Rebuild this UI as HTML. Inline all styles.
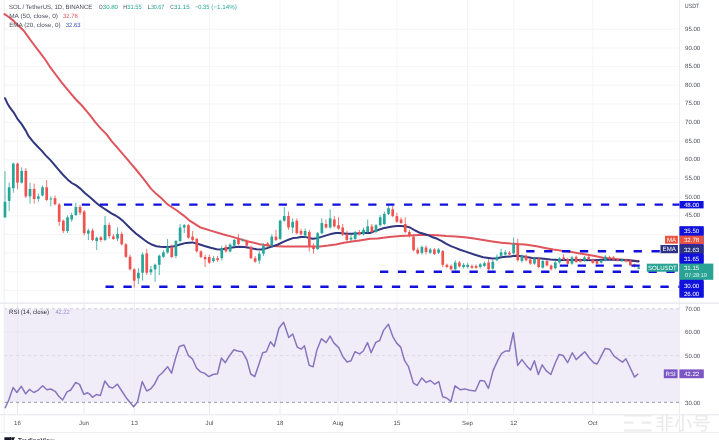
<!DOCTYPE html><html><head><meta charset="utf-8"><style>html,body{margin:0;padding:0;background:#fff;}body{width:719px;height:440px;overflow:hidden;}svg{display:block;}text{font-family:"Liberation Sans","Noto Sans CJK SC",sans-serif;text-rendering:geometricPrecision;}</style></head><body><svg width="719" height="440" viewBox="0 0 719 440"><rect width="719" height="440" fill="#fff"/><line x1="4" y1="290.4" x2="679.5" y2="290.4" stroke="#f4f5f8" stroke-width="1"/><line x1="4" y1="271.8" x2="679.5" y2="271.8" stroke="#f4f5f8" stroke-width="1"/><line x1="4" y1="253.1" x2="679.5" y2="253.1" stroke="#f4f5f8" stroke-width="1"/><line x1="4" y1="234.5" x2="679.5" y2="234.5" stroke="#f4f5f8" stroke-width="1"/><line x1="4" y1="215.8" x2="679.5" y2="215.8" stroke="#f4f5f8" stroke-width="1"/><line x1="4" y1="197.2" x2="679.5" y2="197.2" stroke="#f4f5f8" stroke-width="1"/><line x1="4" y1="178.5" x2="679.5" y2="178.5" stroke="#f4f5f8" stroke-width="1"/><line x1="4" y1="159.9" x2="679.5" y2="159.9" stroke="#f4f5f8" stroke-width="1"/><line x1="4" y1="141.2" x2="679.5" y2="141.2" stroke="#f4f5f8" stroke-width="1"/><line x1="4" y1="122.5" x2="679.5" y2="122.5" stroke="#f4f5f8" stroke-width="1"/><line x1="4" y1="103.9" x2="679.5" y2="103.9" stroke="#f4f5f8" stroke-width="1"/><line x1="4" y1="85.2" x2="679.5" y2="85.2" stroke="#f4f5f8" stroke-width="1"/><line x1="4" y1="66.6" x2="679.5" y2="66.6" stroke="#f4f5f8" stroke-width="1"/><line x1="4" y1="48.0" x2="679.5" y2="48.0" stroke="#f4f5f8" stroke-width="1"/><line x1="4" y1="29.3" x2="679.5" y2="29.3" stroke="#f4f5f8" stroke-width="1"/><line x1="17.5" y1="0" x2="17.5" y2="303" stroke="#f4f5f8" stroke-width="1"/><line x1="84" y1="0" x2="84" y2="303" stroke="#f4f5f8" stroke-width="1"/><line x1="134.4" y1="0" x2="134.4" y2="303" stroke="#f4f5f8" stroke-width="1"/><line x1="209.5" y1="0" x2="209.5" y2="303" stroke="#f4f5f8" stroke-width="1"/><line x1="280" y1="0" x2="280" y2="303" stroke="#f4f5f8" stroke-width="1"/><line x1="338" y1="0" x2="338" y2="303" stroke="#f4f5f8" stroke-width="1"/><line x1="397" y1="0" x2="397" y2="303" stroke="#f4f5f8" stroke-width="1"/><line x1="467.5" y1="0" x2="467.5" y2="303" stroke="#f4f5f8" stroke-width="1"/><line x1="513.75" y1="0" x2="513.75" y2="303" stroke="#f4f5f8" stroke-width="1"/><line x1="592.8" y1="0" x2="592.8" y2="303" stroke="#f4f5f8" stroke-width="1"/><rect x="4" y="308.8" width="675.5" height="93.6" fill="#f0edf9"/><line x1="17.5" y1="304" x2="17.5" y2="414" stroke="#ebe8f4" stroke-width="1"/><line x1="84" y1="304" x2="84" y2="414" stroke="#ebe8f4" stroke-width="1"/><line x1="134.4" y1="304" x2="134.4" y2="414" stroke="#ebe8f4" stroke-width="1"/><line x1="209.5" y1="304" x2="209.5" y2="414" stroke="#ebe8f4" stroke-width="1"/><line x1="280" y1="304" x2="280" y2="414" stroke="#ebe8f4" stroke-width="1"/><line x1="338" y1="304" x2="338" y2="414" stroke="#ebe8f4" stroke-width="1"/><line x1="397" y1="304" x2="397" y2="414" stroke="#ebe8f4" stroke-width="1"/><line x1="467.5" y1="304" x2="467.5" y2="414" stroke="#ebe8f4" stroke-width="1"/><line x1="513.75" y1="304" x2="513.75" y2="414" stroke="#ebe8f4" stroke-width="1"/><line x1="592.8" y1="304" x2="592.8" y2="414" stroke="#ebe8f4" stroke-width="1"/><line x1="4" y1="332.2" x2="679.5" y2="332.2" stroke="#e9e6f2" stroke-width="1"/><line x1="4" y1="308.8" x2="679.5" y2="308.8" stroke="#cfccda" stroke-width="1" stroke-dasharray="3 3"/><line x1="4" y1="355.6" x2="679.5" y2="355.6" stroke="#dcd8e8" stroke-width="1" stroke-dasharray="3 3"/><line x1="4" y1="402.4" x2="679.5" y2="402.4" stroke="#9d9aab" stroke-width="1" stroke-dasharray="3 3"/><line x1="0" y1="303.2" x2="719" y2="303.2" stroke="#e4e6ea" stroke-width="1.2"/><line x1="0" y1="414.8" x2="719" y2="414.8" stroke="#e4e6ea" stroke-width="1"/><line x1="0" y1="432.5" x2="719" y2="432.5" stroke="#eceef1" stroke-width="1"/><line x1="4.2" y1="0" x2="4.2" y2="433" stroke="#eceef1" stroke-width="1"/><line x1="679.5" y1="0" x2="679.5" y2="433" stroke="#eceef1" stroke-width="1"/><polyline points="4.5,14.1 9.1,17.3 13.6,20.9 18.2,25.5 23.6,30.5 29.1,38.2 34.5,45.5 40.0,52.7 45.5,60.0 50.9,68.2 56.4,75.5 61.8,82.7 65.9,87.7 70.5,93.2 75.9,99.5 81.4,105.0 86.8,111.4 91.5,117.2 95.2,122.2 100.9,128.6 106.4,134.1 111.8,141.4 117.3,147.7 120.5,151.4 125.9,157.7 131.4,164.1 136.8,170.5 141.9,176.8 145.5,181.4 150.9,188.6 156.4,194.1 161.8,198.6 167.3,204.1 170.0,206.0 176.9,210.5 183.7,215.6 189.2,220.3 199.9,227.2 210.6,230.6 222.8,234.3 235.1,237.6 247.3,241.2 259.6,244.2 271.8,245.9 284.0,246.4 290.0,246.5 300.5,246.4 315.0,246.6 320.0,246.4 328.0,245.6 335.9,244.4 343.8,242.8 351.8,241.6 359.7,240.4 370.0,238.8 377.7,238.5 389.0,237.0 400.5,236.1 410.0,235.6 419.1,234.9 428.2,234.9 437.3,235.2 446.4,236.1 455.5,236.6 465.0,237.3 474.1,238.6 483.2,240.0 492.3,241.4 501.4,242.7 510.5,243.6 519.5,244.2 525.0,244.6 536.7,246.3 545.0,247.9 553.4,249.6 561.7,250.8 570.0,251.8 580.0,253.4 592.2,255.4 603.4,257.8 614.5,259.1 625.6,260.0 638.5,261.1" fill="none" stroke="#e0545c" stroke-width="2.0" stroke-linejoin="round" stroke-linecap="round"/><polyline points="5.0,98.2 7.3,103.2 10.0,107.7 13.6,112.3 17.3,118.6 21.8,124.4 25.9,130.9 28.6,136.2 33.0,141.6 37.3,146.3 41.6,150.6 45.9,155.6 50.2,159.9 54.5,164.9 58.9,170.1 63.2,175.0 67.5,179.4 71.8,183.0 76.1,185.4 80.4,188.6 84.8,193.0 89.1,196.6 93.4,200.3 95.0,201.8 99.1,205.2 103.2,208.0 107.3,210.7 111.4,213.4 115.5,215.5 119.6,218.2 123.6,221.6 127.7,225.7 131.8,229.8 135.9,233.5 140.0,236.6 144.1,239.7 148.2,242.7 152.3,244.8 156.4,246.2 160.5,246.8 164.6,247.1 168.7,247.1 172.8,246.6 176.9,245.5 180.0,244.5 186.1,242.9 192.2,242.4 198.4,244.0 204.5,246.0 210.6,247.8 216.7,249.2 221.3,249.5 225.9,248.6 232.0,247.5 238.1,246.7 244.3,247.1 250.4,248.1 256.5,249.3 261.1,249.6 265.7,248.6 271.8,246.6 277.9,244.5 285.0,241.1 289.0,239.5 293.0,238.1 296.9,237.7 300.9,237.1 304.9,236.9 308.9,237.9 312.8,238.7 316.8,238.3 320.8,237.1 324.0,236.1 328.0,234.9 331.9,233.7 335.9,233.1 339.9,233.1 343.8,233.4 347.8,233.7 351.8,233.7 355.8,233.4 359.7,233.3 363.7,233.1 370.0,233.0 374.1,231.4 383.2,228.2 392.3,226.4 397.0,226.0 401.4,225.9 405.9,226.4 410.0,227.5 414.5,230.2 419.1,232.5 423.6,233.8 428.2,235.2 432.7,237.3 437.3,238.8 441.8,241.1 446.4,243.8 450.9,246.1 455.5,247.9 460.0,249.7 465.0,251.4 474.1,254.5 483.2,257.3 492.3,258.5 496.8,258.2 501.4,257.3 505.9,256.8 510.5,256.6 513.2,256.0 515.9,255.8 519.5,256.1 525.0,256.8 532.3,258.0 541.4,258.4 550.5,259.5 559.5,259.9 570.0,260.0 580.0,260.1 592.2,260.2 603.4,259.8 612.0,259.7 620.0,259.9 628.1,260.3 638.5,261.4" fill="none" stroke="#30367f" stroke-width="2.0" stroke-linejoin="round" stroke-linecap="round"/><line x1="4.99" y1="171.0" x2="4.99" y2="218.0" stroke="#26a69a" stroke-width="0.8"/><rect x="3.64" y="201.8" width="2.7" height="15.5" fill="#26a69a"/><line x1="9.16" y1="182.7" x2="9.16" y2="211.0" stroke="#26a69a" stroke-width="0.8"/><rect x="7.81" y="187.3" width="2.7" height="13.6" fill="#26a69a"/><line x1="13.33" y1="162.7" x2="13.33" y2="192.7" stroke="#26a69a" stroke-width="0.8"/><rect x="11.98" y="163.6" width="2.7" height="24.6" fill="#26a69a"/><line x1="17.50" y1="162.7" x2="17.50" y2="189.0" stroke="#ef5350" stroke-width="0.8"/><rect x="16.15" y="163.6" width="2.7" height="19.1" fill="#ef5350"/><line x1="21.67" y1="167.3" x2="21.67" y2="183.6" stroke="#26a69a" stroke-width="0.8"/><rect x="20.32" y="170.9" width="2.7" height="11.8" fill="#26a69a"/><line x1="25.84" y1="168.0" x2="25.84" y2="198.0" stroke="#ef5350" stroke-width="0.8"/><rect x="24.49" y="170.9" width="2.7" height="25.5" fill="#ef5350"/><line x1="30.01" y1="182.7" x2="30.01" y2="203.6" stroke="#26a69a" stroke-width="0.8"/><rect x="28.66" y="189.0" width="2.7" height="7.4" fill="#26a69a"/><line x1="34.18" y1="183.6" x2="34.18" y2="203.6" stroke="#ef5350" stroke-width="0.8"/><rect x="32.83" y="189.0" width="2.7" height="10.0" fill="#ef5350"/><line x1="38.34" y1="193.6" x2="38.34" y2="201.8" stroke="#26a69a" stroke-width="0.8"/><rect x="36.99" y="196.4" width="2.7" height="2.3" fill="#26a69a"/><line x1="42.51" y1="185.5" x2="42.51" y2="196.4" stroke="#26a69a" stroke-width="0.8"/><rect x="41.16" y="187.3" width="2.7" height="8.2" fill="#26a69a"/><line x1="46.68" y1="180.0" x2="46.68" y2="201.0" stroke="#ef5350" stroke-width="0.8"/><rect x="45.33" y="187.3" width="2.7" height="12.7" fill="#ef5350"/><line x1="50.85" y1="196.4" x2="50.85" y2="206.4" stroke="#26a69a" stroke-width="0.8"/><rect x="49.50" y="198.5" width="2.7" height="1.0" fill="#26a69a"/><line x1="55.02" y1="195.5" x2="55.02" y2="205.5" stroke="#ef5350" stroke-width="0.8"/><rect x="53.67" y="198.2" width="2.7" height="6.0" fill="#ef5350"/><line x1="59.19" y1="203.0" x2="59.19" y2="226.0" stroke="#ef5350" stroke-width="0.8"/><rect x="57.84" y="204.5" width="2.7" height="17.3" fill="#ef5350"/><line x1="63.36" y1="219.5" x2="63.36" y2="233.0" stroke="#ef5350" stroke-width="0.8"/><rect x="62.01" y="220.7" width="2.7" height="10.3" fill="#ef5350"/><line x1="67.53" y1="215.5" x2="67.53" y2="233.0" stroke="#26a69a" stroke-width="0.8"/><rect x="66.18" y="217.3" width="2.7" height="13.7" fill="#26a69a"/><line x1="71.70" y1="212.7" x2="71.70" y2="221.8" stroke="#26a69a" stroke-width="0.8"/><rect x="70.35" y="215.0" width="2.7" height="4.5" fill="#26a69a"/><line x1="75.87" y1="202.5" x2="75.87" y2="216.1" stroke="#26a69a" stroke-width="0.8"/><rect x="74.52" y="207.0" width="2.7" height="8.0" fill="#26a69a"/><line x1="80.03" y1="204.8" x2="80.03" y2="215.0" stroke="#ef5350" stroke-width="0.8"/><rect x="78.69" y="207.0" width="2.7" height="5.7" fill="#ef5350"/><line x1="84.20" y1="210.0" x2="84.20" y2="235.5" stroke="#ef5350" stroke-width="0.8"/><rect x="82.85" y="211.6" width="2.7" height="21.6" fill="#ef5350"/><line x1="88.37" y1="228.6" x2="88.37" y2="240.0" stroke="#26a69a" stroke-width="0.8"/><rect x="87.02" y="230.5" width="2.7" height="3.1" fill="#26a69a"/><line x1="92.54" y1="228.6" x2="92.54" y2="241.1" stroke="#ef5350" stroke-width="0.8"/><rect x="91.19" y="230.5" width="2.7" height="9.5" fill="#ef5350"/><line x1="96.71" y1="236.6" x2="96.71" y2="250.0" stroke="#26a69a" stroke-width="0.8"/><rect x="95.36" y="237.7" width="2.7" height="3.3" fill="#26a69a"/><line x1="100.88" y1="236.0" x2="100.88" y2="242.0" stroke="#ef5350" stroke-width="0.8"/><rect x="99.53" y="237.3" width="2.7" height="2.7" fill="#ef5350"/><line x1="105.05" y1="216.0" x2="105.05" y2="241.1" stroke="#26a69a" stroke-width="0.8"/><rect x="103.70" y="225.0" width="2.7" height="15.0" fill="#26a69a"/><line x1="109.22" y1="222.7" x2="109.22" y2="238.6" stroke="#ef5350" stroke-width="0.8"/><rect x="107.87" y="225.0" width="2.7" height="11.0" fill="#ef5350"/><line x1="113.39" y1="234.0" x2="113.39" y2="239.8" stroke="#ef5350" stroke-width="0.8"/><rect x="112.04" y="236.4" width="2.7" height="2.6" fill="#ef5350"/><line x1="117.56" y1="227.3" x2="117.56" y2="241.0" stroke="#26a69a" stroke-width="0.8"/><rect x="116.21" y="234.0" width="2.7" height="4.6" fill="#26a69a"/><line x1="121.72" y1="231.8" x2="121.72" y2="245.5" stroke="#ef5350" stroke-width="0.8"/><rect x="120.38" y="234.0" width="2.7" height="10.3" fill="#ef5350"/><line x1="125.89" y1="243.2" x2="125.89" y2="258.0" stroke="#ef5350" stroke-width="0.8"/><rect x="124.54" y="244.3" width="2.7" height="12.5" fill="#ef5350"/><line x1="130.06" y1="254.5" x2="130.06" y2="270.5" stroke="#ef5350" stroke-width="0.8"/><rect x="128.71" y="256.8" width="2.7" height="12.5" fill="#ef5350"/><line x1="134.23" y1="268.2" x2="134.23" y2="287.5" stroke="#ef5350" stroke-width="0.8"/><rect x="132.88" y="269.3" width="2.7" height="11.4" fill="#ef5350"/><line x1="138.40" y1="268.2" x2="138.40" y2="284.0" stroke="#26a69a" stroke-width="0.8"/><rect x="137.05" y="272.7" width="2.7" height="5.7" fill="#26a69a"/><line x1="142.57" y1="252.3" x2="142.57" y2="280.7" stroke="#26a69a" stroke-width="0.8"/><rect x="141.22" y="254.5" width="2.7" height="18.2" fill="#26a69a"/><line x1="146.74" y1="248.9" x2="146.74" y2="275.0" stroke="#ef5350" stroke-width="0.8"/><rect x="145.39" y="253.4" width="2.7" height="19.3" fill="#ef5350"/><line x1="150.91" y1="265.9" x2="150.91" y2="275.0" stroke="#26a69a" stroke-width="0.8"/><rect x="149.56" y="269.3" width="2.7" height="3.0" fill="#26a69a"/><line x1="155.08" y1="263.6" x2="155.08" y2="281.8" stroke="#26a69a" stroke-width="0.8"/><rect x="153.73" y="264.8" width="2.7" height="4.5" fill="#26a69a"/><line x1="159.25" y1="254.5" x2="159.25" y2="275.0" stroke="#26a69a" stroke-width="0.8"/><rect x="157.90" y="255.7" width="2.7" height="9.1" fill="#26a69a"/><line x1="163.41" y1="250.2" x2="163.41" y2="258.2" stroke="#26a69a" stroke-width="0.8"/><rect x="162.06" y="252.3" width="2.7" height="4.5" fill="#26a69a"/><line x1="167.58" y1="238.9" x2="167.58" y2="253.6" stroke="#26a69a" stroke-width="0.8"/><rect x="166.23" y="246.8" width="2.7" height="5.7" fill="#26a69a"/><line x1="171.75" y1="244.5" x2="171.75" y2="258.2" stroke="#ef5350" stroke-width="0.8"/><rect x="170.40" y="246.8" width="2.7" height="10.2" fill="#ef5350"/><line x1="175.92" y1="240.0" x2="175.92" y2="258.2" stroke="#26a69a" stroke-width="0.8"/><rect x="174.57" y="241.0" width="2.7" height="15.0" fill="#26a69a"/><line x1="180.09" y1="224.0" x2="180.09" y2="242.3" stroke="#26a69a" stroke-width="0.8"/><rect x="178.74" y="227.5" width="2.7" height="13.5" fill="#26a69a"/><line x1="184.26" y1="224.0" x2="184.26" y2="233.2" stroke="#26a69a" stroke-width="0.8"/><rect x="182.91" y="225.2" width="2.7" height="2.3" fill="#26a69a"/><line x1="188.43" y1="224.0" x2="188.43" y2="238.9" stroke="#ef5350" stroke-width="0.8"/><rect x="187.08" y="225.2" width="2.7" height="12.5" fill="#ef5350"/><line x1="192.60" y1="231.0" x2="192.60" y2="241.1" stroke="#ef5350" stroke-width="0.8"/><rect x="191.25" y="236.6" width="2.7" height="3.4" fill="#ef5350"/><line x1="196.77" y1="237.7" x2="196.77" y2="252.5" stroke="#ef5350" stroke-width="0.8"/><rect x="195.42" y="238.9" width="2.7" height="12.5" fill="#ef5350"/><line x1="200.94" y1="250.2" x2="200.94" y2="258.2" stroke="#ef5350" stroke-width="0.8"/><rect x="199.59" y="251.4" width="2.7" height="5.6" fill="#ef5350"/><line x1="205.10" y1="254.8" x2="205.10" y2="267.0" stroke="#ef5350" stroke-width="0.8"/><rect x="203.75" y="257.0" width="2.7" height="2.3" fill="#ef5350"/><line x1="209.27" y1="254.8" x2="209.27" y2="263.9" stroke="#ef5350" stroke-width="0.8"/><rect x="207.92" y="257.0" width="2.7" height="5.7" fill="#ef5350"/><line x1="213.44" y1="255.9" x2="213.44" y2="262.7" stroke="#26a69a" stroke-width="0.8"/><rect x="212.09" y="258.2" width="2.7" height="2.8" fill="#26a69a"/><line x1="217.61" y1="256.0" x2="217.61" y2="262.0" stroke="#ef5350" stroke-width="0.8"/><rect x="216.26" y="258.2" width="2.7" height="1.8" fill="#ef5350"/><line x1="221.78" y1="245.7" x2="221.78" y2="260.5" stroke="#26a69a" stroke-width="0.8"/><rect x="220.43" y="248.0" width="2.7" height="10.2" fill="#26a69a"/><line x1="225.95" y1="244.5" x2="225.95" y2="252.5" stroke="#ef5350" stroke-width="0.8"/><rect x="224.60" y="246.8" width="2.7" height="4.6" fill="#ef5350"/><line x1="230.12" y1="243.4" x2="230.12" y2="252.5" stroke="#26a69a" stroke-width="0.8"/><rect x="228.77" y="244.5" width="2.7" height="6.9" fill="#26a69a"/><line x1="234.29" y1="238.9" x2="234.29" y2="246.8" stroke="#26a69a" stroke-width="0.8"/><rect x="232.94" y="240.0" width="2.7" height="5.7" fill="#26a69a"/><line x1="238.46" y1="234.0" x2="238.46" y2="245.0" stroke="#ef5350" stroke-width="0.8"/><rect x="237.11" y="238.5" width="2.7" height="5.5" fill="#ef5350"/><line x1="242.63" y1="238.6" x2="242.63" y2="241.6" stroke="#26a69a" stroke-width="0.8"/><rect x="241.28" y="239.6" width="2.7" height="1.0" fill="#26a69a"/><line x1="246.79" y1="239.5" x2="246.79" y2="246.8" stroke="#ef5350" stroke-width="0.8"/><rect x="245.44" y="241.0" width="2.7" height="4.7" fill="#ef5350"/><line x1="250.96" y1="245.7" x2="250.96" y2="259.3" stroke="#ef5350" stroke-width="0.8"/><rect x="249.61" y="246.8" width="2.7" height="11.4" fill="#ef5350"/><line x1="255.13" y1="256.0" x2="255.13" y2="263.0" stroke="#ef5350" stroke-width="0.8"/><rect x="253.78" y="258.2" width="2.7" height="3.4" fill="#ef5350"/><line x1="259.30" y1="251.4" x2="259.30" y2="263.9" stroke="#26a69a" stroke-width="0.8"/><rect x="257.95" y="253.6" width="2.7" height="6.9" fill="#26a69a"/><line x1="263.47" y1="243.4" x2="263.47" y2="255.9" stroke="#26a69a" stroke-width="0.8"/><rect x="262.12" y="245.7" width="2.7" height="7.9" fill="#26a69a"/><line x1="267.64" y1="242.0" x2="267.64" y2="247.0" stroke="#ef5350" stroke-width="0.8"/><rect x="266.29" y="243.4" width="2.7" height="2.3" fill="#ef5350"/><line x1="271.81" y1="234.3" x2="271.81" y2="248.0" stroke="#26a69a" stroke-width="0.8"/><rect x="270.46" y="236.6" width="2.7" height="9.1" fill="#26a69a"/><line x1="275.98" y1="229.8" x2="275.98" y2="241.1" stroke="#ef5350" stroke-width="0.8"/><rect x="274.63" y="236.6" width="2.7" height="3.4" fill="#ef5350"/><line x1="280.15" y1="219.5" x2="280.15" y2="240.0" stroke="#26a69a" stroke-width="0.8"/><rect x="278.80" y="220.7" width="2.7" height="18.2" fill="#26a69a"/><line x1="284.32" y1="207.0" x2="284.32" y2="221.8" stroke="#26a69a" stroke-width="0.8"/><rect x="282.97" y="216.0" width="2.7" height="4.7" fill="#26a69a"/><line x1="288.48" y1="211.6" x2="288.48" y2="229.8" stroke="#ef5350" stroke-width="0.8"/><rect x="287.13" y="216.0" width="2.7" height="11.5" fill="#ef5350"/><line x1="292.65" y1="218.4" x2="292.65" y2="233.2" stroke="#26a69a" stroke-width="0.8"/><rect x="291.30" y="221.8" width="2.7" height="5.7" fill="#26a69a"/><line x1="296.82" y1="218.4" x2="296.82" y2="234.3" stroke="#ef5350" stroke-width="0.8"/><rect x="295.47" y="220.7" width="2.7" height="12.5" fill="#ef5350"/><line x1="300.99" y1="228.6" x2="300.99" y2="235.5" stroke="#ef5350" stroke-width="0.8"/><rect x="299.64" y="231.0" width="2.7" height="3.3" fill="#ef5350"/><line x1="305.16" y1="228.6" x2="305.16" y2="237.7" stroke="#26a69a" stroke-width="0.8"/><rect x="303.81" y="231.0" width="2.7" height="4.5" fill="#26a69a"/><line x1="309.33" y1="229.8" x2="309.33" y2="251.4" stroke="#ef5350" stroke-width="0.8"/><rect x="307.98" y="232.0" width="2.7" height="14.8" fill="#ef5350"/><line x1="313.50" y1="243.4" x2="313.50" y2="253.6" stroke="#ef5350" stroke-width="0.8"/><rect x="312.15" y="245.7" width="2.7" height="3.3" fill="#ef5350"/><line x1="317.67" y1="232.0" x2="317.67" y2="250.2" stroke="#26a69a" stroke-width="0.8"/><rect x="316.32" y="233.2" width="2.7" height="15.8" fill="#26a69a"/><line x1="321.84" y1="218.4" x2="321.84" y2="234.3" stroke="#26a69a" stroke-width="0.8"/><rect x="320.49" y="223.0" width="2.7" height="10.2" fill="#26a69a"/><line x1="326.01" y1="219.5" x2="326.01" y2="228.6" stroke="#ef5350" stroke-width="0.8"/><rect x="324.66" y="224.0" width="2.7" height="3.5" fill="#ef5350"/><line x1="330.17" y1="209.3" x2="330.17" y2="228.6" stroke="#26a69a" stroke-width="0.8"/><rect x="328.82" y="218.4" width="2.7" height="9.1" fill="#26a69a"/><line x1="334.34" y1="216.1" x2="334.34" y2="227.5" stroke="#ef5350" stroke-width="0.8"/><rect x="332.99" y="219.5" width="2.7" height="6.9" fill="#ef5350"/><line x1="338.51" y1="217.3" x2="338.51" y2="229.8" stroke="#ef5350" stroke-width="0.8"/><rect x="337.16" y="225.2" width="2.7" height="3.4" fill="#ef5350"/><line x1="342.68" y1="224.0" x2="342.68" y2="236.0" stroke="#ef5350" stroke-width="0.8"/><rect x="341.33" y="227.5" width="2.7" height="6.9" fill="#ef5350"/><line x1="346.85" y1="230.9" x2="346.85" y2="241.1" stroke="#ef5350" stroke-width="0.8"/><rect x="345.50" y="234.3" width="2.7" height="5.7" fill="#ef5350"/><line x1="351.02" y1="235.0" x2="351.02" y2="241.0" stroke="#26a69a" stroke-width="0.8"/><rect x="349.67" y="237.7" width="2.7" height="1.8" fill="#26a69a"/><line x1="355.19" y1="230.9" x2="355.19" y2="240.0" stroke="#26a69a" stroke-width="0.8"/><rect x="353.84" y="232.0" width="2.7" height="6.9" fill="#26a69a"/><line x1="359.36" y1="230.0" x2="359.36" y2="235.5" stroke="#ef5350" stroke-width="0.8"/><rect x="358.01" y="232.0" width="2.7" height="2.3" fill="#ef5350"/><line x1="363.53" y1="227.5" x2="363.53" y2="235.5" stroke="#26a69a" stroke-width="0.8"/><rect x="362.18" y="229.8" width="2.7" height="4.5" fill="#26a69a"/><line x1="367.70" y1="219.5" x2="367.70" y2="233.2" stroke="#26a69a" stroke-width="0.8"/><rect x="366.35" y="226.4" width="2.7" height="5.6" fill="#26a69a"/><line x1="371.86" y1="224.0" x2="371.86" y2="233.2" stroke="#ef5350" stroke-width="0.8"/><rect x="370.51" y="226.4" width="2.7" height="5.6" fill="#ef5350"/><line x1="376.03" y1="224.0" x2="376.03" y2="233.2" stroke="#26a69a" stroke-width="0.8"/><rect x="374.68" y="225.2" width="2.7" height="6.8" fill="#26a69a"/><line x1="380.20" y1="215.0" x2="380.20" y2="226.4" stroke="#26a69a" stroke-width="0.8"/><rect x="378.85" y="217.3" width="2.7" height="7.9" fill="#26a69a"/><line x1="384.37" y1="211.6" x2="384.37" y2="225.2" stroke="#26a69a" stroke-width="0.8"/><rect x="383.02" y="213.9" width="2.7" height="10.1" fill="#26a69a"/><line x1="388.54" y1="206.0" x2="388.54" y2="215.0" stroke="#26a69a" stroke-width="0.8"/><rect x="387.19" y="208.2" width="2.7" height="5.7" fill="#26a69a"/><line x1="392.71" y1="206.0" x2="392.71" y2="217.3" stroke="#ef5350" stroke-width="0.8"/><rect x="391.36" y="209.3" width="2.7" height="6.8" fill="#ef5350"/><line x1="396.88" y1="212.7" x2="396.88" y2="223.0" stroke="#ef5350" stroke-width="0.8"/><rect x="395.53" y="216.1" width="2.7" height="5.7" fill="#ef5350"/><line x1="401.05" y1="217.3" x2="401.05" y2="224.0" stroke="#ef5350" stroke-width="0.8"/><rect x="399.70" y="219.5" width="2.7" height="3.5" fill="#ef5350"/><line x1="405.22" y1="217.3" x2="405.22" y2="233.2" stroke="#ef5350" stroke-width="0.8"/><rect x="403.87" y="224.0" width="2.7" height="8.0" fill="#ef5350"/><line x1="409.39" y1="229.8" x2="409.39" y2="237.7" stroke="#ef5350" stroke-width="0.8"/><rect x="408.04" y="232.0" width="2.7" height="3.5" fill="#ef5350"/><line x1="413.55" y1="234.3" x2="413.55" y2="251.4" stroke="#ef5350" stroke-width="0.8"/><rect x="412.20" y="236.6" width="2.7" height="13.6" fill="#ef5350"/><line x1="417.72" y1="247.5" x2="417.72" y2="254.5" stroke="#ef5350" stroke-width="0.8"/><rect x="416.37" y="249.7" width="2.7" height="3.7" fill="#ef5350"/><line x1="421.89" y1="245.5" x2="421.89" y2="254.5" stroke="#26a69a" stroke-width="0.8"/><rect x="420.54" y="247.0" width="2.7" height="5.9" fill="#26a69a"/><line x1="426.06" y1="245.5" x2="426.06" y2="254.5" stroke="#ef5350" stroke-width="0.8"/><rect x="424.71" y="247.5" width="2.7" height="4.5" fill="#ef5350"/><line x1="430.23" y1="248.0" x2="430.23" y2="254.0" stroke="#26a69a" stroke-width="0.8"/><rect x="428.88" y="249.5" width="2.7" height="3.2" fill="#26a69a"/><line x1="434.40" y1="248.0" x2="434.40" y2="255.0" stroke="#ef5350" stroke-width="0.8"/><rect x="433.05" y="249.5" width="2.7" height="4.5" fill="#ef5350"/><line x1="438.57" y1="248.0" x2="438.57" y2="254.0" stroke="#26a69a" stroke-width="0.8"/><rect x="437.22" y="249.5" width="2.7" height="3.2" fill="#26a69a"/><line x1="442.74" y1="250.0" x2="442.74" y2="267.0" stroke="#ef5350" stroke-width="0.8"/><rect x="441.39" y="251.1" width="2.7" height="13.7" fill="#ef5350"/><line x1="446.91" y1="263.6" x2="446.91" y2="268.2" stroke="#ef5350" stroke-width="0.8"/><rect x="445.56" y="264.8" width="2.7" height="2.2" fill="#ef5350"/><line x1="451.08" y1="264.5" x2="451.08" y2="270.5" stroke="#ef5350" stroke-width="0.8"/><rect x="449.73" y="265.9" width="2.7" height="3.4" fill="#ef5350"/><line x1="455.24" y1="260.2" x2="455.24" y2="270.5" stroke="#26a69a" stroke-width="0.8"/><rect x="453.89" y="262.5" width="2.7" height="6.8" fill="#26a69a"/><line x1="459.41" y1="261.0" x2="459.41" y2="267.5" stroke="#ef5350" stroke-width="0.8"/><rect x="458.06" y="262.5" width="2.7" height="3.9" fill="#ef5350"/><line x1="463.58" y1="263.0" x2="463.58" y2="268.5" stroke="#26a69a" stroke-width="0.8"/><rect x="462.23" y="264.8" width="2.7" height="2.2" fill="#26a69a"/><line x1="467.75" y1="263.0" x2="467.75" y2="268.5" stroke="#26a69a" stroke-width="0.8"/><rect x="466.40" y="264.8" width="2.7" height="2.2" fill="#26a69a"/><line x1="471.92" y1="264.5" x2="471.92" y2="269.0" stroke="#ef5350" stroke-width="0.8"/><rect x="470.57" y="265.9" width="2.7" height="1.8" fill="#ef5350"/><line x1="476.09" y1="264.5" x2="476.09" y2="269.0" stroke="#ef5350" stroke-width="0.8"/><rect x="474.74" y="265.9" width="2.7" height="1.8" fill="#ef5350"/><line x1="480.26" y1="263.0" x2="480.26" y2="268.5" stroke="#26a69a" stroke-width="0.8"/><rect x="478.91" y="264.3" width="2.7" height="2.7" fill="#26a69a"/><line x1="484.43" y1="261.5" x2="484.43" y2="267.0" stroke="#26a69a" stroke-width="0.8"/><rect x="483.08" y="263.2" width="2.7" height="2.7" fill="#26a69a"/><line x1="488.60" y1="259.0" x2="488.60" y2="270.5" stroke="#ef5350" stroke-width="0.8"/><rect x="487.25" y="262.5" width="2.7" height="6.8" fill="#ef5350"/><line x1="492.77" y1="260.0" x2="492.77" y2="269.8" stroke="#26a69a" stroke-width="0.8"/><rect x="491.42" y="261.8" width="2.7" height="6.8" fill="#26a69a"/><line x1="496.93" y1="254.5" x2="496.93" y2="261.4" stroke="#26a69a" stroke-width="0.8"/><rect x="495.58" y="256.8" width="2.7" height="3.4" fill="#26a69a"/><line x1="501.10" y1="248.9" x2="501.10" y2="256.8" stroke="#26a69a" stroke-width="0.8"/><rect x="499.75" y="252.3" width="2.7" height="3.4" fill="#26a69a"/><line x1="505.27" y1="250.0" x2="505.27" y2="255.7" stroke="#26a69a" stroke-width="0.8"/><rect x="503.92" y="252.3" width="2.7" height="2.2" fill="#26a69a"/><line x1="509.44" y1="251.0" x2="509.44" y2="255.7" stroke="#ef5350" stroke-width="0.8"/><rect x="508.09" y="252.7" width="2.7" height="1.8" fill="#ef5350"/><line x1="513.61" y1="237.5" x2="513.61" y2="254.5" stroke="#26a69a" stroke-width="0.8"/><rect x="512.26" y="244.3" width="2.7" height="9.1" fill="#26a69a"/><line x1="517.78" y1="238.6" x2="517.78" y2="261.4" stroke="#ef5350" stroke-width="0.8"/><rect x="516.43" y="244.3" width="2.7" height="15.9" fill="#ef5350"/><line x1="521.95" y1="254.5" x2="521.95" y2="262.5" stroke="#26a69a" stroke-width="0.8"/><rect x="520.60" y="255.7" width="2.7" height="5.2" fill="#26a69a"/><line x1="526.12" y1="254.5" x2="526.12" y2="261.4" stroke="#ef5350" stroke-width="0.8"/><rect x="524.77" y="255.7" width="2.7" height="4.5" fill="#ef5350"/><line x1="530.29" y1="258.0" x2="530.29" y2="264.8" stroke="#ef5350" stroke-width="0.8"/><rect x="528.94" y="259.5" width="2.7" height="4.1" fill="#ef5350"/><line x1="534.46" y1="256.8" x2="534.46" y2="264.8" stroke="#26a69a" stroke-width="0.8"/><rect x="533.11" y="258.6" width="2.7" height="5.0" fill="#26a69a"/><line x1="538.62" y1="257.9" x2="538.62" y2="268.2" stroke="#ef5350" stroke-width="0.8"/><rect x="537.27" y="258.6" width="2.7" height="8.4" fill="#ef5350"/><line x1="542.79" y1="259.5" x2="542.79" y2="268.6" stroke="#26a69a" stroke-width="0.8"/><rect x="541.44" y="260.9" width="2.7" height="6.8" fill="#26a69a"/><line x1="546.96" y1="259.5" x2="546.96" y2="266.4" stroke="#ef5350" stroke-width="0.8"/><rect x="545.61" y="260.9" width="2.7" height="4.6" fill="#ef5350"/><line x1="551.13" y1="264.5" x2="551.13" y2="270.5" stroke="#ef5350" stroke-width="0.8"/><rect x="549.78" y="265.5" width="2.7" height="3.8" fill="#ef5350"/><line x1="555.30" y1="261.0" x2="555.30" y2="269.3" stroke="#26a69a" stroke-width="0.8"/><rect x="553.95" y="262.5" width="2.7" height="5.7" fill="#26a69a"/><line x1="559.47" y1="257.0" x2="559.47" y2="263.6" stroke="#26a69a" stroke-width="0.8"/><rect x="558.12" y="258.4" width="2.7" height="4.1" fill="#26a69a"/><line x1="563.64" y1="254.0" x2="563.64" y2="260.5" stroke="#ef5350" stroke-width="0.8"/><rect x="562.29" y="257.4" width="2.7" height="2.3" fill="#ef5350"/><line x1="567.81" y1="257.5" x2="567.81" y2="264.8" stroke="#ef5350" stroke-width="0.8"/><rect x="566.46" y="259.0" width="2.7" height="4.7" fill="#ef5350"/><line x1="571.98" y1="256.0" x2="571.98" y2="264.8" stroke="#26a69a" stroke-width="0.8"/><rect x="570.63" y="257.4" width="2.7" height="6.3" fill="#26a69a"/><line x1="576.15" y1="255.5" x2="576.15" y2="263.0" stroke="#ef5350" stroke-width="0.8"/><rect x="574.80" y="256.9" width="2.7" height="5.2" fill="#ef5350"/><line x1="580.31" y1="258.5" x2="580.31" y2="262.5" stroke="#ef5350" stroke-width="0.8"/><rect x="578.96" y="259.7" width="2.7" height="2.0" fill="#ef5350"/><line x1="584.48" y1="256.0" x2="584.48" y2="261.5" stroke="#26a69a" stroke-width="0.8"/><rect x="583.13" y="257.4" width="2.7" height="3.1" fill="#26a69a"/><line x1="588.65" y1="255.5" x2="588.65" y2="260.0" stroke="#ef5350" stroke-width="0.8"/><rect x="587.30" y="256.9" width="2.7" height="2.0" fill="#ef5350"/><line x1="592.82" y1="258.5" x2="592.82" y2="263.7" stroke="#ef5350" stroke-width="0.8"/><rect x="591.47" y="259.7" width="2.7" height="3.2" fill="#ef5350"/><line x1="596.99" y1="260.0" x2="596.99" y2="264.5" stroke="#ef5350" stroke-width="0.8"/><rect x="595.64" y="261.0" width="2.7" height="2.7" fill="#ef5350"/><line x1="601.16" y1="259.5" x2="601.16" y2="263.5" stroke="#26a69a" stroke-width="0.8"/><rect x="599.81" y="260.5" width="2.7" height="2.1" fill="#26a69a"/><line x1="605.33" y1="255.0" x2="605.33" y2="261.4" stroke="#26a69a" stroke-width="0.8"/><rect x="603.98" y="256.6" width="2.7" height="3.9" fill="#26a69a"/><line x1="609.50" y1="255.8" x2="609.50" y2="259.7" stroke="#ef5350" stroke-width="0.8"/><rect x="608.15" y="257.4" width="2.7" height="1.6" fill="#ef5350"/><line x1="613.67" y1="256.0" x2="613.67" y2="260.5" stroke="#ef5350" stroke-width="0.8"/><rect x="612.32" y="257.4" width="2.7" height="2.3" fill="#ef5350"/><line x1="617.84" y1="258.0" x2="617.84" y2="261.5" stroke="#ef5350" stroke-width="0.8"/><rect x="616.49" y="259.0" width="2.7" height="1.5" fill="#ef5350"/><line x1="622.00" y1="258.5" x2="622.00" y2="262.0" stroke="#26a69a" stroke-width="0.8"/><rect x="620.65" y="259.7" width="2.7" height="1.6" fill="#26a69a"/><line x1="626.17" y1="258.5" x2="626.17" y2="262.5" stroke="#ef5350" stroke-width="0.8"/><rect x="624.82" y="259.7" width="2.7" height="1.9" fill="#ef5350"/><line x1="630.34" y1="259.7" x2="630.34" y2="266.1" stroke="#ef5350" stroke-width="0.8"/><rect x="628.99" y="260.5" width="2.7" height="4.8" fill="#ef5350"/><line x1="634.51" y1="263.7" x2="634.51" y2="267.5" stroke="#ef5350" stroke-width="0.8"/><rect x="633.16" y="264.5" width="2.7" height="1.7" fill="#ef5350"/><line x1="638.68" y1="266.0" x2="638.68" y2="269.2" stroke="#26a69a" stroke-width="0.8"/><rect x="637.33" y="267.5" width="2.7" height="1.3" fill="#26a69a"/><line x1="63.9" y1="204.6" x2="679.5" y2="204.6" stroke="#1111dd" stroke-width="2.4" stroke-dasharray="8.3 9.6"/><line x1="526.2" y1="251.2" x2="679.5" y2="251.2" stroke="#1111dd" stroke-width="2.4" stroke-dasharray="8.3 9.6"/><line x1="559.8" y1="265.6" x2="679.5" y2="265.6" stroke="#1111dd" stroke-width="2.4" stroke-dasharray="8.3 9.6"/><line x1="380.0" y1="271.8" x2="679.5" y2="271.8" stroke="#1111dd" stroke-width="2.4" stroke-dasharray="8.3 9.6"/><line x1="105.5" y1="286.7" x2="679.5" y2="286.7" stroke="#1111dd" stroke-width="2.4" stroke-dasharray="8.3 9.6"/><polyline points="5.0,408.2 8.8,400.0 13.1,387.5 16.9,392.5 21.3,386.3 25.7,393.8 29.4,389.4 33.8,392.5 37.5,390.7 42.6,385.7 46.9,389.8 50.7,389.0 55.1,391.3 58.8,396.3 62.6,400.0 67.0,391.9 70.7,390.0 75.7,382.5 79.5,384.4 83.9,394.4 87.6,392.8 90.0,394.4 92.5,397.3 96.2,394.6 100.4,395.4 104.8,381.0 109.3,387.0 112.7,388.0 117.4,384.2 121.8,391.0 127.0,398.8 133.6,406.7 137.5,402.0 142.2,381.6 146.7,391.0 150.6,388.9 154.5,384.2 158.4,376.3 162.4,372.7 167.6,366.7 171.5,373.2 175.4,358.8 179.3,346.5 184.0,345.0 188.5,355.7 192.4,358.8 196.5,368.0 200.5,371.9 204.4,373.2 208.8,376.6 213.0,374.5 217.5,373.7 221.4,358.0 225.3,362.7 229.2,356.2 233.9,349.7 237.6,351.0 242.3,351.8 247.0,360.1 250.7,374.0 254.8,376.6 258.5,365.4 262.7,352.8 266.3,351.8 270.5,341.8 274.2,346.5 278.9,328.2 283.6,322.2 288.8,337.4 292.7,334.0 297.2,347.1 301.1,349.2 304.5,345.8 309.2,365.4 313.1,366.7 317.0,349.7 321.4,338.7 326.1,342.6 330.1,336.1 334.0,343.1 338.7,347.6 343.1,357.0 347.1,362.0 351.0,360.7 354.9,351.8 359.6,353.9 363.3,351.0 367.5,342.6 371.1,352.8 375.8,342.4 379.7,340.5 383.7,330.1 388.4,324.3 392.8,336.6 396.7,343.1 400.7,347.1 404.6,360.7 408.5,366.7 413.4,383.1 417.2,385.4 421.8,377.9 426.2,382.4 430.4,380.5 434.8,384.2 438.8,381.6 442.7,396.7 446.6,398.0 451.0,401.4 455.0,385.8 460.2,389.7 464.9,388.9 469.6,390.2 475.4,391.0 480.1,380.5 484.5,381.0 488.4,388.4 493.1,370.6 497.6,360.7 501.5,353.6 505.4,351.0 509.3,351.0 513.3,332.7 517.7,365.4 521.9,359.6 526.3,365.4 530.5,370.1 534.4,360.7 538.3,374.5 542.2,364.8 546.1,370.6 550.8,374.5 555.3,362.7 559.2,354.4 563.1,355.4 567.6,362.7 572.3,352.8 576.2,359.6 580.7,355.4 584.8,351.8 589.3,358.0 593.7,362.7 597.1,364.0 601.6,355.4 605.0,348.6 609.4,349.2 614.1,356.2 618.8,359.6 622.5,362.2 625.9,358.8 630.3,368.0 634.5,377.1 638.2,373.8" fill="none" stroke="#8676bd" stroke-width="1.5" stroke-linejoin="round"/><text x="684.8" y="8.0" font-size="6.1" fill="#4a4e5a" textLength="14.6" lengthAdjust="spacingAndGlyphs">USDT</text><text x="685.0" y="30.8" font-size="6.1" fill="#4a4e5a">95.00</text><text x="685.0" y="49.5" font-size="6.1" fill="#4a4e5a">90.00</text><text x="685.0" y="68.1" font-size="6.1" fill="#4a4e5a">85.00</text><text x="685.0" y="86.8" font-size="6.1" fill="#4a4e5a">80.00</text><text x="685.0" y="105.4" font-size="6.1" fill="#4a4e5a">75.00</text><text x="685.0" y="124.0" font-size="6.1" fill="#4a4e5a">70.00</text><text x="685.0" y="142.7" font-size="6.1" fill="#4a4e5a">65.00</text><text x="685.0" y="161.4" font-size="6.1" fill="#4a4e5a">60.00</text><text x="685.0" y="180.0" font-size="6.1" fill="#4a4e5a">55.00</text><text x="685.0" y="198.7" font-size="6.1" fill="#4a4e5a">50.00</text><text x="685.0" y="217.3" font-size="6.1" fill="#4a4e5a">45.00</text><rect x="679.6" y="201.0" width="24" height="7.4" fill="#1111dd"/><text x="691.6" y="206.9" font-size="6.1" fill="#fff" text-anchor="middle">48.00</text><rect x="679.6" y="226.4" width="24" height="71" fill="#1111dd"/><rect x="679.6" y="226.4" width="24" height="9.0" fill="#1111dd"/><text x="691.6" y="233.1" font-size="6.1" fill="#fff" text-anchor="middle">35.50</text><rect x="679.6" y="235.6" width="24" height="8.6" fill="#e8543f"/><text x="691.6" y="242.1" font-size="6.1" fill="#fff" text-anchor="middle">32.78</text><rect x="665.0" y="235.8" width="12.9" height="7.8" fill="#e8543f"/><text x="671.5" y="241.9" font-size="6.1" fill="#fff" text-anchor="middle">MA</text><rect x="679.6" y="245.0" width="24" height="8.6" fill="#2b3183"/><text x="691.6" y="251.5" font-size="6.1" fill="#fff" text-anchor="middle">32.63</text><rect x="660.5" y="245.0" width="17.4" height="8.2" fill="#2b3183"/><text x="669.2" y="251.3" font-size="6.1" fill="#fff" text-anchor="middle">EMA</text><rect x="679.6" y="254.2" width="24" height="8.6" fill="#1111dd"/><text x="691.6" y="260.7" font-size="6.1" fill="#fff" text-anchor="middle">31.65</text><rect x="679.6" y="263.6" width="33.7" height="16.2" fill="#2aa394"/><text x="691.6" y="269.8" font-size="6.1" fill="#fff" text-anchor="middle">31.15</text><text x="696" y="277.3" font-size="5.6" fill="#e0f5f2" text-anchor="middle">07:28:19</text><rect x="646.8" y="263.7" width="31.2" height="8.0" fill="#2aa394"/><text x="662.4" y="269.9" font-size="6.1" fill="#fff" text-anchor="middle">SOLUSDT</text><rect x="679.6" y="281.0" width="24" height="8.6" fill="#1111dd"/><text x="691.6" y="287.5" font-size="6.1" fill="#fff" text-anchor="middle">30.00</text><rect x="679.6" y="289.6" width="24" height="8.0" fill="#1111dd"/><text x="691.6" y="295.8" font-size="6.1" fill="#fff" text-anchor="middle">26.00</text><text x="685.0" y="311.0" font-size="6.1" fill="#4a4e5a">70.00</text><text x="685.0" y="334.4" font-size="6.1" fill="#4a4e5a">60.00</text><text x="685.0" y="357.8" font-size="6.1" fill="#4a4e5a">50.00</text><text x="685.0" y="404.6" font-size="6.1" fill="#4a4e5a">30.00</text><rect x="663.8" y="369.4" width="13.8" height="8.8" fill="#7b55c4"/><text x="670.7" y="376.0" font-size="6.1" fill="#fff" text-anchor="middle">RSI</text><rect x="679.4" y="369.4" width="24.4" height="8.8" fill="#7b55c4"/><text x="691.6" y="376.0" font-size="6.1" fill="#fff" text-anchor="middle">42.22</text><text x="17.5" y="425.3" font-size="6.1" fill="#4a4e5a" text-anchor="middle">16</text><text x="84" y="425.3" font-size="6.1" fill="#4a4e5a" text-anchor="middle">Jun</text><text x="134.4" y="425.3" font-size="6.1" fill="#4a4e5a" text-anchor="middle">13</text><text x="209.5" y="425.3" font-size="6.1" fill="#4a4e5a" text-anchor="middle">Jul</text><text x="280" y="425.3" font-size="6.1" fill="#4a4e5a" text-anchor="middle">18</text><text x="338" y="425.3" font-size="6.1" fill="#4a4e5a" text-anchor="middle">Aug</text><text x="397" y="425.3" font-size="6.1" fill="#4a4e5a" text-anchor="middle">15</text><text x="467.5" y="425.3" font-size="6.1" fill="#4a4e5a" text-anchor="middle">Sep</text><text x="513.75" y="425.3" font-size="6.1" fill="#4a4e5a" text-anchor="middle">12</text><text x="592.8" y="425.3" font-size="6.1" fill="#4a4e5a" text-anchor="middle">Oct</text><text x="9.0" y="8.9" font-size="6.2" fill="#4a4e5a" textLength="83.4" lengthAdjust="spacingAndGlyphs">SOL / TetherUS, 1D, BINANCE</text><text x="98.7" y="8.9" font-size="6.2" fill="#4a4e5a" textLength="3.9" lengthAdjust="spacingAndGlyphs">O</text><text x="102.8" y="8.9" font-size="6.2" fill="#26a69a" textLength="15.2" lengthAdjust="spacingAndGlyphs">30.80</text><text x="123.2" y="8.9" font-size="6.2" fill="#4a4e5a" textLength="3.9" lengthAdjust="spacingAndGlyphs">H</text><text x="127.2" y="8.9" font-size="6.2" fill="#26a69a" textLength="14.7" lengthAdjust="spacingAndGlyphs">31.55</text><text x="147.7" y="8.9" font-size="6.2" fill="#4a4e5a" textLength="3.1" lengthAdjust="spacingAndGlyphs">L</text><text x="150.9" y="8.9" font-size="6.2" fill="#26a69a" textLength="13.3" lengthAdjust="spacingAndGlyphs">30.67</text><text x="170.2" y="8.9" font-size="6.2" fill="#4a4e5a" textLength="3.4" lengthAdjust="spacingAndGlyphs">C</text><text x="174.0" y="8.9" font-size="6.2" fill="#26a69a" textLength="15.6" lengthAdjust="spacingAndGlyphs">31.15</text><text x="194.9" y="8.9" font-size="6.2" fill="#26a69a" textLength="14.4" lengthAdjust="spacingAndGlyphs">−0.35</text><text x="211.3" y="8.9" font-size="6.2" fill="#26a69a" textLength="25.6" lengthAdjust="spacingAndGlyphs">(−1.14%)</text><text x="9.2" y="18.2" font-size="6.2" fill="#4a4e5a" textLength="48.8" lengthAdjust="spacingAndGlyphs">MA (50, close, 0)</text><text x="63.0" y="18.2" font-size="6.2" fill="#e0545c" textLength="14.8" lengthAdjust="spacingAndGlyphs">32.78</text><text x="9.2" y="26.9" font-size="6.2" fill="#4a4e5a" textLength="51.3" lengthAdjust="spacingAndGlyphs">EMA (20, close, 0)</text><text x="65.8" y="26.9" font-size="6.2" fill="#3b55b8" textLength="14.8" lengthAdjust="spacingAndGlyphs">32.63</text><text x="9.1" y="313.6" font-size="6.2" fill="#2e313b" textLength="40.0" lengthAdjust="spacingAndGlyphs">RSI (14, close)</text><text x="55.4" y="313.6" font-size="6.2" fill="#9a88d0" textLength="14.2" lengthAdjust="spacingAndGlyphs">42.22</text><path d="M4.4 437.2 H11 V441 H8.6 V440 H4.4 Z" fill="#131722"/><path d="M11.8 437.2 H15 L13.2 441 H11.2 Z" fill="#131722"/><circle cx="10.9" cy="438.2" r="0.9" fill="#131722"/><text x="18.0" y="442.6" font-size="6.8" fill="#131722" font-weight="bold" textLength="36.4" lengthAdjust="spacingAndGlyphs">TradingView</text><g fill="#ececec"><rect x="623.7" y="414.2" width="28" height="2.2" rx="1"/><rect x="623.7" y="421.6" width="10" height="2.2" rx="1"/><rect x="641.5" y="421.6" width="10.2" height="2.2" rx="1"/><rect x="623.7" y="429.4" width="28" height="2.2" rx="1"/></g><text x="655.3" y="429.8" font-size="18.5" fill="#e9e9e9" font-family="Noto Sans CJK SC, sans-serif">非小号</text></svg></body></html>
